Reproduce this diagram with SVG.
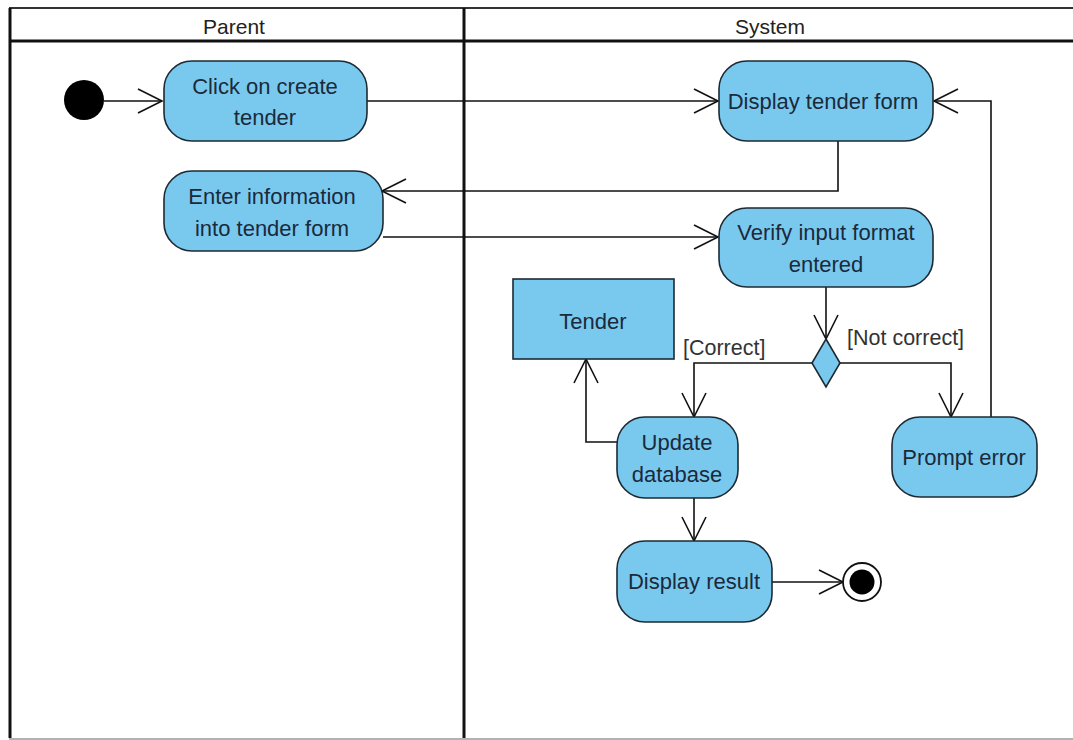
<svg xmlns="http://www.w3.org/2000/svg" width="1073" height="740" viewBox="0 0 1073 740">
<defs>
<style>
.frame{fill:none;stroke:#111;stroke-width:3}
.thin{fill:none;stroke:#333;stroke-width:2}
.act{fill:#79C9EF;stroke:#1d2a33;stroke-width:1.6}
.t{font-family:"Liberation Sans",Arial,sans-serif;font-size:22px;fill:#1b2a3a;text-anchor:middle}
.h{font-family:"Liberation Sans",Arial,sans-serif;font-size:21px;fill:#222;text-anchor:middle}
.lbl{font-family:"Liberation Sans",Arial,sans-serif;font-size:21.5px;fill:#333;text-anchor:start}
.c{fill:none;stroke:#111;stroke-width:1.6}
</style>
<marker id="arr" markerUnits="userSpaceOnUse" viewBox="-26 -14 28 28" refX="0" refY="0" markerWidth="28" markerHeight="28" orient="auto">
<path d="M -24 -12 L 0 0 L -24 12" fill="none" stroke="#111" stroke-width="1.6"/>
</marker>
</defs>
<rect width="1073" height="740" fill="#fff"/>
<g id="swimlanes">
<line class="thin" x1="9" y1="8" x2="1073" y2="8"/>
<line class="frame" x1="9" y1="41" x2="1073" y2="41"/>
<line class="frame" x1="10" y1="8" x2="10" y2="738"/>
<line class="frame" x1="464" y1="8" x2="464" y2="738"/>
<line x1="9" y1="739" x2="1073" y2="739" stroke="#999" stroke-width="1.5"/>
<text class="h" x="234" y="34">Parent</text>
<text class="h" x="770" y="34">System</text>
</g>
<g id="connectors">
<path class="c" d="M104 101 L162 101" marker-end="url(#arr)"/>
<path class="c" d="M367 101 L718 101" marker-end="url(#arr)"/>
<path class="c" d="M838 141 L838 191 L382 191" marker-end="url(#arr)"/>
<path class="c" d="M383 237 L718 237" marker-end="url(#arr)"/>
<path class="c" d="M826 287 L826 339" marker-end="url(#arr)"/>
<path class="c" d="M812 363 L694 363 L694 417" marker-end="url(#arr)"/>
<path class="c" d="M840 363 L951 363 L951 417" marker-end="url(#arr)"/>
<path class="c" d="M991 417 L991 101 L934 101" marker-end="url(#arr)"/>
<path class="c" d="M617 442 L586 442 L586 359" marker-end="url(#arr)"/>
<path class="c" d="M694 498 L694 541" marker-end="url(#arr)"/>
<path class="c" d="M772 582 L843 582" marker-end="url(#arr)"/>
<text class="lbl" x="683" y="355">[Correct]</text>
<text class="lbl" x="847" y="345">[Not correct]</text>
</g>
<g id="initial">
<circle cx="84" cy="100" r="20" fill="#000"/>
</g>
<g id="click-create">
<rect class="act" x="164" y="61" width="203" height="80" rx="28"/>
<text class="t" x="265" y="94">Click on create</text>
<text class="t" x="265" y="125">tender</text>
</g>
<g id="enter-info">
<rect class="act" x="164" y="171" width="219" height="80" rx="28"/>
<text class="t" x="272" y="204">Enter information</text>
<text class="t" x="272" y="236">into tender form</text>
</g>
<g id="display-form">
<rect class="act" x="719" y="61" width="214" height="80" rx="28"/>
<text class="t" x="823" y="109">Display tender form</text>
</g>
<g id="verify">
<rect class="act" x="719" y="208" width="214" height="79" rx="28"/>
<text class="t" x="826" y="240">Verify input format</text>
<text class="t" x="826" y="272">entered</text>
</g>
<g id="decision">
<polygon class="act" points="826,339 840,363 826,387 812,363"/>
</g>
<g id="tender">
<rect class="act" x="513" y="279" width="161" height="80"/>
<text class="t" x="593" y="329">Tender</text>
</g>
<g id="update-db">
<rect class="act" x="617" y="417" width="121" height="81" rx="28"/>
<text class="t" x="677" y="450">Update</text>
<text class="t" x="677" y="482">database</text>
</g>
<g id="prompt-error">
<rect class="act" x="892" y="417" width="145" height="80" rx="28"/>
<text class="t" x="964" y="465">Prompt error</text>
</g>
<g id="display-result">
<rect class="act" x="617" y="541" width="155" height="81" rx="28"/>
<text class="t" x="694" y="589">Display result</text>
</g>
<g id="final">
<circle cx="862" cy="582" r="19" fill="#fff" stroke="#111" stroke-width="1.8"/>
<circle cx="862" cy="582" r="12.5" fill="#000"/>
</g>
</svg>
